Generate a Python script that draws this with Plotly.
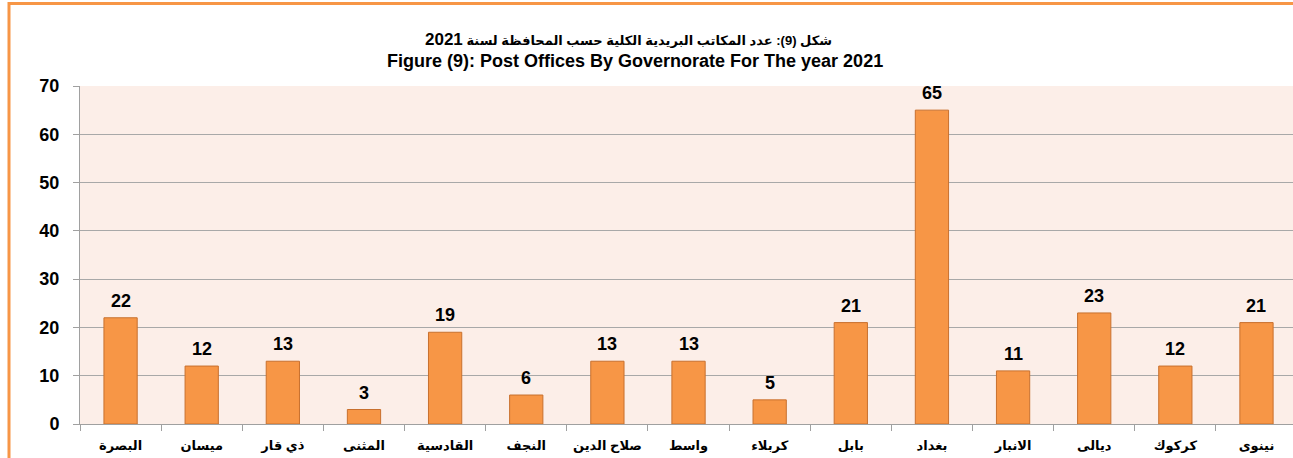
import plotly.graph_objects as go

governorates = ["البصرة", "ميسان", "ذي قار", "المثنى", "القادسية", "النجف", "صلاح الدين",
                "واسط", "كربلاء", "بابل", "بغداد", "الانبار", "ديالى", "كركوك", "نينوى"]
post_offices = [22, 12, 13, 3, 19, 6, 13, 13, 5, 21, 65, 11, 23, 12, 21]
y_ticks = [0, 10, 20, 30, 40, 50, 60, 70]
title_ar = "شكل (9): عدد المكاتب البريدية الكلية حسب المحافظة لسنة"
title_year = "2021"
title_en = "Figure (9): Post Offices By Governorate For The year 2021"

W, H = 1293, 458
L, R, T, B = 80, 0, 86, 34
pw = W - L - R
ph = H - T - B

def px(x):
    return (x - L) / pw

def py(y):
    return (H - B - y) / ph

fig = go.Figure(go.Bar(
    x=governorates, y=post_offices,
    marker=dict(color="#F79646", line=dict(color="#C8702E", width=1)),
))

annotations = [
    dict(text="<b>" + title_ar + " <span style='font-size:17px'>" + title_year + "</span></b>",
         xref="paper", yref="paper", x=px(628), y=py(40), xanchor="center", yanchor="middle",
         showarrow=False, font=dict(family="Liberation Sans, DejaVu Sans", size=13, color="#000000")),
    dict(text="<b>" + title_en + "</b>",
         xref="paper", yref="paper", x=px(635), y=py(61), xanchor="center", yanchor="middle",
         showarrow=False, font=dict(family="Liberation Sans, Arial", size=18, color="#000000")),
]
for g, v in zip(governorates, post_offices):
    annotations.append(dict(
        x=g, y=v, xref="x", yref="y", text="<b>%d</b>" % v, showarrow=False,
        yanchor="middle", yshift=17,
        font=dict(family="Liberation Sans, Arial", size=18, color="#000000"),
    ))

fig.update_layout(
    width=W, height=H,
    margin=dict(l=L, r=R, t=T, b=B, pad=0),
    paper_bgcolor="#FFFFFF",
    plot_bgcolor="#FCEEE8",
    bargap=0.59,
    showlegend=False,
    font=dict(family="Liberation Sans, Arial", color="#000000"),
    xaxis=dict(
        type="category", range=[-0.5, 14.45],
        showline=True, linecolor="#A0A0A0", linewidth=1,
        ticks="outside", tickson="boundaries", ticklen=6, tickcolor="#A0A0A0",
        tickfont=dict(family="Liberation Sans, DejaVu Sans", size=13, color="#000000", weight="bold"),
        ticklabelstandoff=9,
        showgrid=False,
    ),
    yaxis=dict(
        range=[0, 70], tickvals=y_ticks,
        showline=True, linecolor="#A0A0A0", linewidth=1,
        ticks="outside", ticklen=6, tickcolor="#A0A0A0",
        gridcolor="#A8A8A8", gridwidth=1,
        tickfont=dict(family="Liberation Sans, Arial", size=18, color="#000000", weight="bold"),
        ticklabelstandoff=10,
        zeroline=False,
    ),
    annotations=annotations,
    shapes=[
        dict(type="line", xref="paper", yref="paper", x0=px(9), x1=px(9), y0=py(2), y1=py(470),
             line=dict(color="#F79646", width=3)),
        dict(type="line", xref="paper", yref="paper", x0=px(8), x1=px(1300), y0=py(3.5), y1=py(3.5),
             line=dict(color="#F79646", width=3)),
    ],
)

fig.write_html("out.html", config={"displayModeBar": False},
               post_script="document.body.style.margin='0';document.body.style.overflow='hidden';")
